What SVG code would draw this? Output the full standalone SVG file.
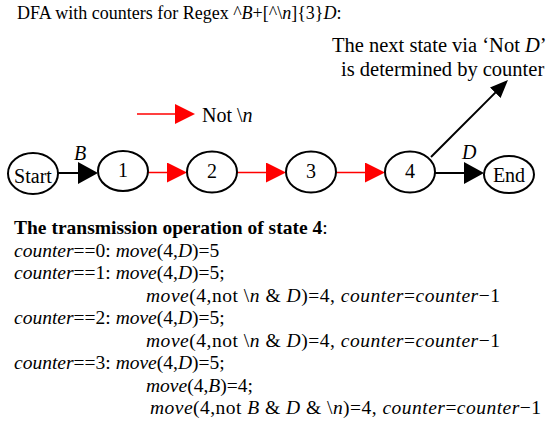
<svg xmlns="http://www.w3.org/2000/svg" width="548" height="429" viewBox="0 0 548 429">
  <style>
    text { font-family: "Liberation Serif", "Times New Roman", serif; fill: #000; }
    .i { font-style: italic; }
    .b { font-weight: bold; }
    .node ellipse { fill: #fff; stroke: #000; stroke-width: 2; }
    .node text { font-size: 20px; text-anchor: middle; }
    .blk { stroke: #000; stroke-width: 2; fill: none; }
    .red { stroke: #ff0000; stroke-width: 1.5; fill: none; }
    .body { font-size: 19.5px; }
  </style>
  <defs>
    <marker id="headBlack" markerUnits="userSpaceOnUse" markerWidth="20" markerHeight="22" refX="10" refY="11" orient="auto">
      <path d="M0,0 L20,11 L0,22 z" fill="#000"/>
    </marker>
    <marker id="headRed" markerUnits="userSpaceOnUse" markerWidth="20" markerHeight="20" refX="10" refY="10" orient="auto">
      <path d="M0,0 L20,10 L0,20 z" fill="#ff0000"/>
    </marker>
    <marker id="headDiag" markerUnits="userSpaceOnUse" markerWidth="18" markerHeight="15" refX="9" refY="7.5" orient="auto">
      <path d="M0,0 L18,7.5 L0,15 z" fill="#000"/>
    </marker>
  </defs>

  <!-- title -->
  <text x="17" y="19" font-size="18">DFA with counters for Regex ^<tspan class="i">B</tspan>+[^\<tspan class="i">n</tspan>]{3}<tspan class="i">D</tspan>:</text>

  <!-- note on the counter-driven transition -->
  <text x="332" y="52" font-size="20.5">The next state via ‘Not <tspan class="i">D</tspan>’</text>
  <text x="341" y="76" font-size="20.5">is determined by counter</text>

  <!-- legend: red edge means "Not \n" -->
  <g id="legend">
    <line class="red" x1="137" y1="114" x2="185" y2="114" marker-end="url(#headRed)"/>
    <text x="202" y="122" font-size="20">Not \<tspan class="i">n</tspan></text>
  </g>

  <!-- connectors -->
  <g id="edges">
    <line class="blk" x1="58" y1="173" x2="88" y2="173" marker-end="url(#headBlack)"/>
    <text class="i" x="74" y="160" font-size="20">B</text>
    <line class="red" x1="148" y1="172.5" x2="177" y2="172.5" marker-end="url(#headRed)"/>
    <line class="red" x1="237" y1="172.5" x2="276" y2="172.5" marker-end="url(#headRed)"/>
    <line class="red" x1="336" y1="172.5" x2="375" y2="172.5" marker-end="url(#headRed)"/>
    <line class="blk" x1="435" y1="173" x2="474" y2="173" marker-end="url(#headBlack)"/>
    <text class="i" x="462" y="159" font-size="20">D</text>
    <line class="blk" x1="431" y1="157" x2="501.6" y2="86.4" marker-end="url(#headDiag)"/>
  </g>

  <!-- states -->
  <g id="start" class="node">
    <ellipse cx="33" cy="173.5" rx="25" ry="20.5"/>
    <text x="33" y="183">Start</text>
  </g>
  <g id="s1" class="node">
    <ellipse cx="123" cy="171" rx="25" ry="20"/>
    <text x="123" y="177">1</text>
  </g>
  <g id="s2" class="node">
    <ellipse cx="212" cy="172" rx="25" ry="20.5"/>
    <text x="212" y="178">2</text>
  </g>
  <g id="s3" class="node">
    <ellipse cx="311" cy="172" rx="25" ry="20.5"/>
    <text x="311" y="178">3</text>
  </g>
  <g id="s4" class="node">
    <ellipse cx="410" cy="172" rx="25" ry="20.5"/>
    <text x="410" y="178">4</text>
  </g>
  <g id="end" class="node">
    <ellipse cx="509" cy="174.5" rx="25" ry="18.5"/>
    <text x="509" y="182">End</text>
  </g>

  <!-- transition table for state 4 -->
  <g id="ops" class="body">
    <text x="14" y="234"><tspan class="b">The transmission operation of state 4</tspan>:</text>
    <text x="14" y="256.5"><tspan class="i">counter</tspan>==0: <tspan class="i">move</tspan>(4,<tspan class="i">D</tspan>)=5</text>
    <text x="14" y="279"><tspan class="i">counter</tspan>==1: <tspan class="i">move</tspan>(4,<tspan class="i">D</tspan>)=5;</text>
    <text x="146" y="301.5" textLength="354" lengthAdjust="spacing"><tspan class="i">move</tspan>(4,not \<tspan class="i">n</tspan> &amp; <tspan class="i">D</tspan>)=4, <tspan class="i">counter</tspan>=<tspan class="i">counter</tspan>−1</text>
    <text x="14" y="324"><tspan class="i">counter</tspan>==2: <tspan class="i">move</tspan>(4,<tspan class="i">D</tspan>)=5;</text>
    <text x="146" y="346.5" textLength="354" lengthAdjust="spacing"><tspan class="i">move</tspan>(4,not \<tspan class="i">n</tspan> &amp; <tspan class="i">D</tspan>)=4, <tspan class="i">counter</tspan>=<tspan class="i">counter</tspan>−1</text>
    <text x="14" y="369"><tspan class="i">counter</tspan>==3: <tspan class="i">move</tspan>(4,<tspan class="i">D</tspan>)=5;</text>
    <text x="146" y="391.5"><tspan class="i">move</tspan>(4,<tspan class="i">B</tspan>)=4;</text>
    <text x="150" y="414" textLength="391" lengthAdjust="spacing"><tspan class="i">move</tspan>(4,not <tspan class="i">B</tspan> &amp; <tspan class="i">D</tspan> &amp; \<tspan class="i">n</tspan>)=4, <tspan class="i">counter</tspan>=<tspan class="i">counter</tspan>−1</text>
  </g>
</svg>
